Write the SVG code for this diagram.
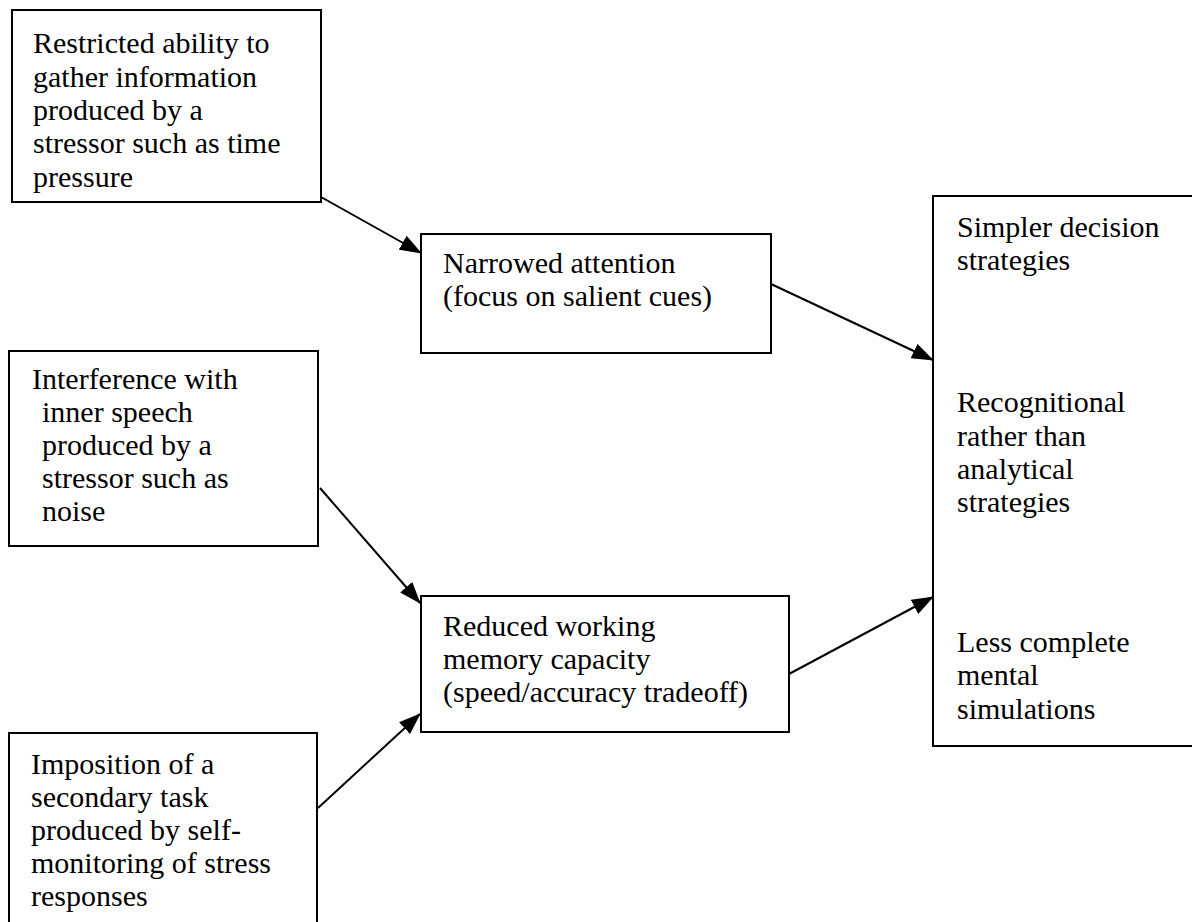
<svg xmlns="http://www.w3.org/2000/svg" width="1192" height="922" viewBox="0 0 1192 922">
<style>
.box{fill:#fff;stroke:#000;stroke-width:2}
.t{font-family:"Liberation Serif","Times New Roman",serif;font-size:30px;fill:#000}
.c{stroke:#000;stroke-width:2;fill:none;marker-end:url(#ah)}
</style>
<defs>
<marker id="ah" viewBox="0 0 22 16" refX="21" refY="8" markerWidth="22" markerHeight="16" orient="auto" markerUnits="userSpaceOnUse">
<path d="M0,0 L22,8 L0,16 Z" fill="#000"/>
</marker>
</defs>
<rect width="1192" height="922" fill="#fff"/>
<g id="n1">
<rect class="box" x="12" y="10" width="309" height="192"/>
<text class="t"><tspan x="33" y="53">Restricted ability to</tspan><tspan x="33" y="87">gather information</tspan><tspan x="33" y="120">produced by a</tspan><tspan x="33" y="153">stressor such as time</tspan><tspan x="33" y="187">pressure</tspan></text>
</g>
<g id="n2">
<rect class="box" x="421" y="234" width="350" height="119"/>
<text class="t"><tspan x="443" y="273">Narrowed attention</tspan><tspan x="443" y="306">(focus on salient cues)</tspan></text>
</g>
<g id="n3">
<rect class="box" x="9" y="351" width="309" height="195"/>
<text class="t"><tspan x="32" y="389">Interference with</tspan><tspan x="42" y="422">inner speech</tspan><tspan x="42" y="455">produced by a</tspan><tspan x="42" y="488">stressor such as</tspan><tspan x="42" y="521">noise</tspan></text>
</g>
<g id="n4">
<rect class="box" x="421" y="596" width="368" height="136"/>
<text class="t"><tspan x="443" y="636">Reduced working</tspan><tspan x="443" y="669">memory capacity</tspan><tspan x="443" y="702">(speed/accuracy tradeoff)</tspan></text>
</g>
<g id="n5">
<rect class="box" x="9" y="733" width="308" height="200"/>
<text class="t"><tspan x="31" y="774">Imposition of a</tspan><tspan x="31" y="807">secondary task</tspan><tspan x="31" y="840">produced by self-</tspan><tspan x="31" y="873">monitoring of stress</tspan><tspan x="31" y="906">responses</tspan></text>
</g>
<g id="n6">
<rect class="box" x="933" y="196" width="280" height="550"/>
<text class="t"><tspan x="957" y="237">Simpler decision</tspan><tspan x="957" y="270">strategies</tspan><tspan x="957" y="412">Recognitional</tspan><tspan x="957" y="446">rather than</tspan><tspan x="957" y="479">analytical</tspan><tspan x="957" y="512">strategies</tspan><tspan x="957" y="652">Less complete</tspan><tspan x="957" y="685">mental</tspan><tspan x="957" y="719">simulations</tspan></text>
</g>
<g id="connectors">
<line class="c" x1="321" y1="197" x2="421" y2="253"/>
<line class="c" x1="771" y1="284" x2="933" y2="360"/>
<line class="c" x1="320" y1="488" x2="420" y2="603"/>
<line class="c" x1="318" y1="808" x2="420" y2="714"/>
<line class="c" x1="789" y1="674" x2="933" y2="597"/>
</g>
</svg>
